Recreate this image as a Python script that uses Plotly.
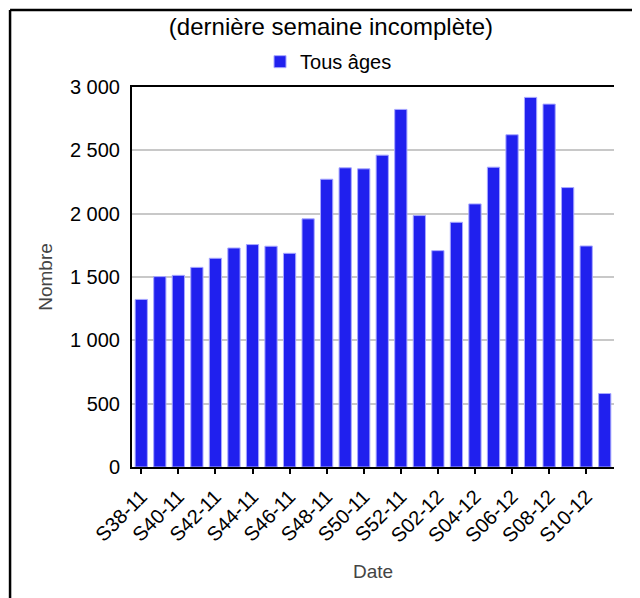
import plotly.graph_objects as go

# weekly counts, S38-11 .. S11-12 (last week incomplete)
weeks = [f"S{w:02d}-11" for w in range(38, 53)] + [f"S{w:02d}-12" for w in range(1, 12)]
counts = [1323, 1503, 1513, 1576, 1648, 1729, 1756, 1743, 1687, 1959,
          2272, 2362, 2354, 2462, 2823, 1985, 1708, 1932, 2077, 2367,
          2623, 2918, 2865, 2206, 1745, 580]
y_ticks = [0, 500, 1000, 1500, 2000, 2500, 3000]

FONT = "Arial, Liberation Sans, sans-serif"

fig = go.Figure()
fig.add_trace(go.Bar(
    x=weeks,
    y=counts,
    name="Tous âges",
    width=0.66,
    marker=dict(color="#2020ee", line=dict(color="#a8a8ff", width=1)),
    showlegend=True,
))

# outer frame (top and left edges only visible)
fig.add_shape(type="line", xref="paper", yref="paper",
              x0=-0.253, x1=1.1, y0=1.2026, y1=1.2026,
              line=dict(color="black", width=2.5))
fig.add_shape(type="line", xref="paper", yref="paper",
              x0=-0.253, x1=-0.253, y0=-0.4, y1=1.2026,
              line=dict(color="black", width=2.5))

# page body has an 8px margin, so the figure is 8px smaller each way
fig.update_layout(
    width=632, height=590,
    margin=dict(l=124, r=26, t=79, b=131),
    paper_bgcolor="white", plot_bgcolor="white",
    separators=", ",
    font=dict(family=FONT, size=20, color="black"),
    title=dict(text="(dernière semaine incomplète)", x=0.511, xanchor="center",
               y=0.968, yanchor="middle", font=dict(size=24, color="black")),
    legend=dict(orientation="h", x=0.2656, xanchor="left", y=1.118, yanchor="top",
                font=dict(size=20), bgcolor="rgba(0,0,0,0)"),
    xaxis=dict(
        type="category",
        range=[-0.5, 25.5],
        tickmode="array", tickvals=weeks[::2], ticktext=weeks[::2],
        tickangle=-45, ticks="outside", ticklen=5, tickcolor="black", tickwidth=1.5,
        ticklabelstandoff=3,
        showline=True, linecolor="black", linewidth=2, mirror=True,
        showgrid=False,
        title=dict(text="Date", standoff=19, font=dict(size=19, color="#444")),
        automargin=False,
    ),
    yaxis=dict(
        range=[0, 3000],
        tickvals=y_ticks, tickformat=",d",
        showline=True, linecolor="black", linewidth=2,
        showgrid=True, gridcolor="#c8c8c8", gridwidth=1.5,
        zeroline=False, ticks="", ticklabelstandoff=6,
        title=dict(text="Nombre", standoff=12, font=dict(size=19, color="#444")),
        automargin=False,
    ),
)

fig.write_html("out.html")
